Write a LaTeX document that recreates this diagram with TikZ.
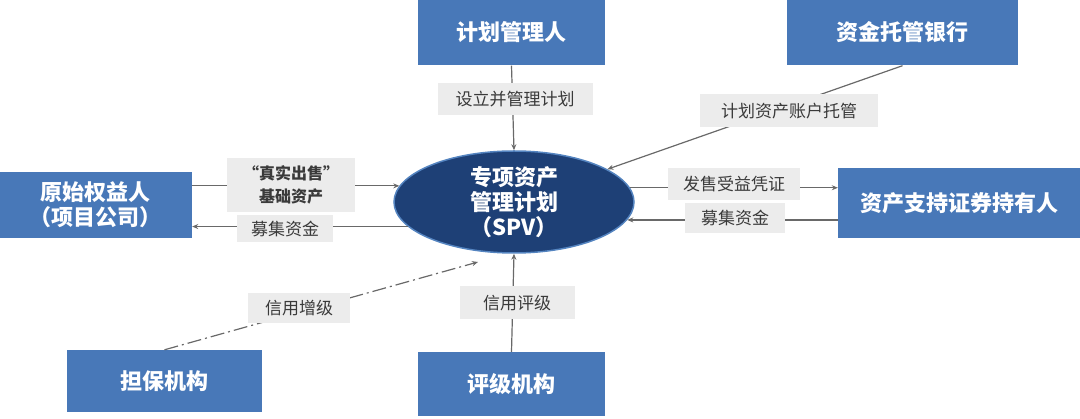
\documentclass[tikz,border=0pt]{standalone}
\usepackage{fontspec}
\setmainfont{Noto Sans CJK SC}
\usepackage{xcolor}
\usepackage{tikz}
\usetikzlibrary{arrows.meta,positioning,calc,shapes.geometric}
\definecolor{boxblue}{RGB}{72,120,184}
\definecolor{spvnavy}{RGB}{30,64,118}
\definecolor{spvedge}{RGB}{84,132,192}
\definecolor{lblgray}{RGB}{236,236,236}
\definecolor{lbltext}{RGB}{58,58,58}
\definecolor{linegray}{RGB}{105,105,105}

\begin{document}
\begin{tikzpicture}[x=1pt, y=-1pt,
    partybox/.style={fill=boxblue, text=white, align=center, inner sep=0pt,
                     font=\fontsize{22}{25}\selectfont\bfseries},
    flowlbl/.style={fill=lblgray, text=lbltext, align=center, inner sep=0pt,
                    font=\fontsize{17}{20}\selectfont},
    spvtext/.style={text=white, align=center,
                    font=\fontsize{22}{25}\selectfont\bfseries},
    arr/.style={-{Stealth[length=6pt,width=5pt]}, line width=1.2pt, linegray},
    dasharr/.style={arr, dash pattern=on 14pt off 4pt on 2pt off 4pt},
  ]
    \useasboundingbox (0,0) rectangle (1080,419);

    % Parties round the plan
    \node[partybox, minimum width=187pt, minimum height=66pt] (mgr) at (511.5,32.5) {计划管理人};
    \node[partybox, minimum width=231pt, minimum height=66pt] (bank) at (902.5,32.5) {资金托管银行};
    \node[partybox, minimum width=192pt, minimum height=66pt] (orig) at (96,205) {原始权益人\\（项目公司）};
    \node[partybox, minimum width=242pt, minimum height=70pt] (holder) at (959,203) {资产支持证券持有人};
    \node[partybox, minimum width=195pt, minimum height=62pt] (guar) at (164.5,381) {担保机构};
    \node[partybox, minimum width=187pt, minimum height=64pt] (rating) at (511.5,384) {评级机构};

    % The plan (SPV)
    \node[ellipse, fill=spvnavy, draw=spvedge, line width=1.5pt, inner sep=0pt,
          minimum width=240pt, minimum height=102pt,
          label={[spvtext]center:{专项资产\\管理计划\\（SPV）}}] (spv) at (514,202) {};

    % Connectors
    \draw[arr] (mgr.south) -- (spv.north);
    \draw[arr] (bank.south) -- (spv);
    \draw[arr] (orig.east |- spv.172) -- (spv.172);
    \draw[arr] (spv.193) -- (orig.east |- spv.193);
    \draw[arr] (spv.7) -- (holder.west |- spv.7);
    \draw[arr] (holder.west |- spv.351) -- (spv.351);
    \draw[arr] (rating.north) -- (spv.south);
    \coordinate (guartip) at (478,262);
    \draw[dasharr] (guar.north) -- (guartip);

    % Flow labels
    \node[flowlbl, minimum width=155pt, minimum height=32pt] (setup) at (515,99) {设立并管理计划};
    \node[flowlbl, minimum width=178pt, minimum height=33pt] (custody) at (789,111) {计划资产账户托管};
    \node[flowlbl, minimum width=128pt, minimum height=54pt,
          font=\fontsize{16}{23}\selectfont\bfseries] (sale) at (291,185) {“真实出售”\\基础资产};
    \node[flowlbl, minimum width=96pt, minimum height=27pt] (raiseL) at (285,229) {募集资金};
    \node[flowlbl, minimum width=132pt, minimum height=32pt] (issue) at (734,184) {发售受益凭证};
    \node[flowlbl, minimum width=100pt, minimum height=30pt] (raiseR) at (735,218) {募集资金};
    \node[flowlbl, minimum width=102pt, minimum height=30pt] (enh) at (299,308) {信用增级};
    \node[flowlbl, minimum width=115pt, minimum height=33pt] (grade) at (517,303) {信用评级};
\end{tikzpicture}
\end{document}
